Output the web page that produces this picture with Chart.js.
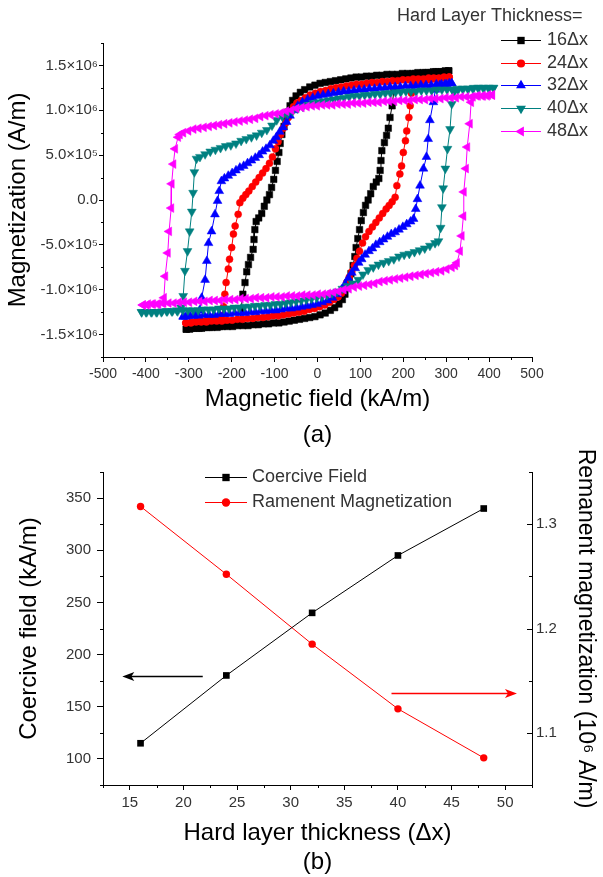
<!DOCTYPE html>
<html>
<head>
<meta charset="utf-8">
<title>Hysteresis loops and hard layer thickness</title>
<script src="https://cdn.jsdelivr.net/npm/chart.js@4.4.1/dist/chart.umd.min.js"></script>
<style>
  html, body { margin: 0; padding: 0; background: #fff; }
  #page { position: relative; width: 603px; height: 877px; }
  .panel { position: absolute; left: 0; width: 603px; }
  #panelA { top: 0; height: 455px; }
  #panelB { top: 440px; height: 437px; }
</style>
</head>
<body>
<div id="page">
  <div class="panel" id="panelA"><canvas id="loopChart"></canvas></div>
  <div class="panel" id="panelB"><canvas id="trendChart"></canvas></div>
</div>
<script>
// ---- (a) hysteresis loops: H in kA/m, M in 10^6 A/m ----
const loopLabels = ['16Δx', '24Δx', '32Δx', '40Δx', '48Δx'];

// each loop: field sweeping down from +Hmax (desc), then back up from -Hmax (asc)
const desc16 = [[306,1.44],[294,1.43],[282,1.43],[270,1.43],[258,1.42],[246,1.42],[234,1.42],[222,1.41],[210,1.41],[198,1.41],[186,1.40],[174,1.40],[162,1.40],[150,1.39],[138,1.39],[126,1.38],[114,1.38],[102,1.37],[90,1.37],[78,1.36],[66,1.35],[54,1.34],[42,1.33],[30,1.32],[18,1.31],[6,1.30],[-6,1.28],[-18,1.26],[-30,1.23],[-40,1.20],[-50,1.16],[-58,1.11],[-64,1.05],[-69,0.98],[-74,0.90],[-78,0.82],[-83,0.73],[-87,0.63],[-90,0.53],[-94,0.43],[-98,0.33],[-102,0.23],[-107,0.14],[-112,0.06],[-118,0.00],[-124,-0.07],[-130,-0.15],[-137,-0.20],[-143,-0.24],[-146,-0.33],[-148,-0.44],[-150,-0.55],[-156,-0.64],[-161,-0.72],[-165,-0.80],[-169,-0.92],[-174,-1.05],[-178,-1.22],[-182,-1.35],[-192,-1.38],[-204,-1.39],[-216,-1.40],[-228,-1.41],[-240,-1.41],[-252,-1.42],[-264,-1.42],[-276,-1.43],[-288,-1.43],[-298,-1.44],[-306,-1.44]];
const asc16 = [[-306,-1.44],[-294,-1.43],[-282,-1.43],[-270,-1.43],[-258,-1.42],[-246,-1.42],[-234,-1.42],[-222,-1.41],[-210,-1.41],[-198,-1.41],[-186,-1.40],[-174,-1.40],[-162,-1.40],[-150,-1.39],[-138,-1.39],[-126,-1.38],[-114,-1.38],[-102,-1.37],[-90,-1.37],[-78,-1.36],[-66,-1.35],[-54,-1.34],[-42,-1.33],[-30,-1.32],[-18,-1.31],[-6,-1.30],[6,-1.28],[18,-1.26],[30,-1.23],[40,-1.20],[50,-1.16],[58,-1.11],[64,-1.05],[69,-0.98],[74,-0.90],[78,-0.82],[83,-0.73],[87,-0.63],[90,-0.53],[94,-0.43],[98,-0.33],[102,-0.23],[107,-0.14],[112,-0.06],[118,0.00],[124,0.07],[130,0.15],[137,0.20],[143,0.24],[146,0.33],[148,0.44],[150,0.55],[156,0.64],[161,0.72],[165,0.80],[169,0.92],[174,1.05],[178,1.22],[182,1.35],[192,1.38],[204,1.39],[216,1.40],[228,1.41],[240,1.41],[252,1.42],[264,1.42],[276,1.43],[288,1.43],[298,1.44],[306,1.44]];

const desc24 = [[307,1.37],[295,1.37],[283,1.36],[271,1.36],[259,1.36],[247,1.35],[235,1.35],[223,1.35],[211,1.34],[199,1.34],[187,1.33],[175,1.33],[163,1.32],[151,1.32],[139,1.31],[127,1.31],[115,1.30],[103,1.29],[91,1.29],[79,1.28],[67,1.27],[55,1.26],[43,1.25],[31,1.24],[19,1.22],[7,1.21],[-5,1.19],[-17,1.17],[-28,1.14],[-38,1.11],[-48,1.08],[-56,1.04],[-62,0.98],[-68,0.92],[-74,0.86],[-80,0.80],[-86,0.73],[-92,0.65],[-98,0.57],[-105,0.48],[-112,0.41],[-120,0.35],[-128,0.30],[-136,0.25],[-144,0.20],[-152,0.15],[-160,0.10],[-167,0.06],[-174,0.02],[-181,-0.03],[-185,-0.16],[-192,-0.29],[-196,-0.38],[-200,-0.53],[-205,-0.66],[-208,-0.77],[-213,-0.92],[-216,-1.05],[-219,-1.19],[-223,-1.29],[-234,-1.32],[-246,-1.33],[-258,-1.34],[-270,-1.35],[-282,-1.35],[-294,-1.36],[-307,-1.37]];
const asc24 = [[-307,-1.37],[-295,-1.37],[-283,-1.36],[-271,-1.36],[-259,-1.36],[-247,-1.35],[-235,-1.35],[-223,-1.35],[-211,-1.34],[-199,-1.34],[-187,-1.33],[-175,-1.33],[-163,-1.32],[-151,-1.32],[-139,-1.31],[-127,-1.31],[-115,-1.30],[-103,-1.29],[-91,-1.29],[-79,-1.28],[-67,-1.27],[-55,-1.26],[-43,-1.25],[-31,-1.24],[-19,-1.22],[-7,-1.21],[5,-1.19],[17,-1.17],[28,-1.14],[38,-1.11],[48,-1.08],[56,-1.04],[62,-0.98],[68,-0.92],[74,-0.86],[80,-0.80],[86,-0.73],[92,-0.65],[98,-0.57],[105,-0.48],[112,-0.41],[120,-0.35],[128,-0.30],[136,-0.25],[144,-0.20],[152,-0.15],[160,-0.10],[167,-0.06],[174,-0.02],[181,0.03],[185,0.16],[192,0.29],[196,0.38],[200,0.53],[205,0.66],[208,0.77],[213,0.92],[216,1.05],[219,1.19],[223,1.29],[234,1.32],[246,1.33],[258,1.34],[270,1.35],[282,1.35],[294,1.36],[307,1.37]];

const desc32 = [[313,1.30],[301,1.29],[289,1.29],[277,1.29],[265,1.28],[253,1.28],[241,1.28],[229,1.27],[217,1.27],[205,1.27],[193,1.26],[181,1.26],[169,1.26],[157,1.25],[145,1.25],[133,1.24],[121,1.24],[109,1.23],[97,1.23],[85,1.22],[73,1.21],[61,1.21],[49,1.20],[37,1.19],[25,1.18],[13,1.17],[1,1.16],[-11,1.14],[-23,1.12],[-35,1.09],[-46,1.05],[-56,1.00],[-64,0.94],[-72,0.87],[-80,0.81],[-88,0.76],[-96,0.70],[-103,0.66],[-111,0.61],[-120,0.57],[-128,0.54],[-136,0.50],[-145,0.47],[-154,0.44],[-163,0.41],[-172,0.38],[-181,0.36],[-190,0.33],[-199,0.30],[-208,0.27],[-217,0.24],[-224,0.21],[-229,0.10],[-233,-0.01],[-239,-0.16],[-247,-0.35],[-254,-0.48],[-258,-0.68],[-262,-0.89],[-270,-1.09],[-275,-1.23],[-285,-1.28],[-297,-1.29],[-307,-1.30],[-313,-1.30]];
const asc32 = [[-313,-1.30],[-301,-1.29],[-289,-1.29],[-277,-1.29],[-265,-1.28],[-253,-1.28],[-241,-1.28],[-229,-1.27],[-217,-1.27],[-205,-1.27],[-193,-1.26],[-181,-1.26],[-169,-1.26],[-157,-1.25],[-145,-1.25],[-133,-1.24],[-121,-1.24],[-109,-1.23],[-97,-1.23],[-85,-1.22],[-73,-1.21],[-61,-1.21],[-49,-1.20],[-37,-1.19],[-25,-1.18],[-13,-1.17],[-1,-1.16],[11,-1.14],[23,-1.12],[35,-1.09],[46,-1.05],[56,-1.00],[64,-0.94],[72,-0.87],[80,-0.81],[88,-0.76],[96,-0.70],[103,-0.66],[111,-0.61],[120,-0.57],[128,-0.54],[136,-0.50],[145,-0.47],[154,-0.44],[163,-0.41],[172,-0.38],[181,-0.36],[190,-0.33],[199,-0.30],[208,-0.27],[217,-0.24],[224,-0.21],[229,-0.10],[233,0.01],[239,0.16],[247,0.35],[254,0.48],[258,0.68],[262,0.89],[270,1.09],[275,1.23],[285,1.28],[297,1.29],[307,1.30],[313,1.30]];

const desc40 = [[410,1.25],[398,1.25],[386,1.25],[374,1.25],[362,1.24],[350,1.24],[338,1.24],[326,1.24],[314,1.23],[302,1.23],[290,1.23],[278,1.23],[266,1.22],[254,1.22],[242,1.22],[230,1.21],[218,1.21],[206,1.21],[194,1.20],[182,1.20],[170,1.19],[158,1.19],[146,1.18],[134,1.18],[122,1.17],[110,1.17],[98,1.16],[86,1.16],[74,1.15],[62,1.14],[50,1.13],[38,1.12],[26,1.11],[14,1.10],[2,1.09],[-10,1.08],[-22,1.06],[-34,1.04],[-46,1.02],[-58,0.99],[-70,0.96],[-82,0.93],[-95,0.89],[-106,0.83],[-118,0.78],[-130,0.75],[-142,0.72],[-154,0.70],[-166,0.68],[-178,0.66],[-190,0.63],[-202,0.61],[-214,0.60],[-226,0.58],[-238,0.56],[-250,0.54],[-262,0.51],[-274,0.48],[-282,0.46],[-287,0.31],[-290,0.08],[-293,-0.13],[-298,-0.35],[-303,-0.57],[-309,-0.79],[-313,-1.07],[-318,-1.20],[-328,-1.23],[-340,-1.24],[-352,-1.24],[-364,-1.25],[-376,-1.25],[-388,-1.25],[-400,-1.25],[-410,-1.25]];
const asc40 = [[-410,-1.25],[-398,-1.25],[-386,-1.25],[-374,-1.25],[-362,-1.24],[-350,-1.24],[-338,-1.24],[-326,-1.24],[-314,-1.23],[-302,-1.23],[-290,-1.23],[-278,-1.23],[-266,-1.22],[-254,-1.22],[-242,-1.22],[-230,-1.21],[-218,-1.21],[-206,-1.21],[-194,-1.20],[-182,-1.20],[-170,-1.19],[-158,-1.19],[-146,-1.18],[-134,-1.18],[-122,-1.17],[-110,-1.17],[-98,-1.16],[-86,-1.16],[-74,-1.15],[-62,-1.14],[-50,-1.13],[-38,-1.12],[-26,-1.11],[-14,-1.10],[-2,-1.09],[10,-1.08],[22,-1.06],[34,-1.04],[46,-1.02],[58,-0.99],[70,-0.96],[82,-0.93],[95,-0.89],[106,-0.83],[118,-0.78],[130,-0.75],[142,-0.72],[154,-0.70],[166,-0.68],[178,-0.66],[190,-0.63],[202,-0.61],[214,-0.60],[226,-0.58],[238,-0.56],[250,-0.54],[262,-0.51],[274,-0.48],[282,-0.46],[287,-0.31],[290,-0.08],[293,0.13],[298,0.35],[303,0.57],[309,0.79],[313,1.07],[318,1.20],[328,1.23],[340,1.24],[352,1.24],[364,1.25],[376,1.25],[388,1.25],[400,1.25],[410,1.25]];

const desc48 = [[407,1.17],[395,1.16],[383,1.16],[371,1.16],[359,1.15],[347,1.15],[335,1.15],[323,1.14],[311,1.14],[299,1.14],[287,1.13],[275,1.13],[263,1.13],[251,1.12],[239,1.12],[227,1.12],[215,1.11],[203,1.11],[191,1.11],[179,1.10],[167,1.10],[155,1.10],[143,1.09],[131,1.09],[119,1.09],[107,1.08],[95,1.08],[83,1.08],[71,1.07],[59,1.07],[47,1.07],[35,1.06],[23,1.06],[11,1.06],[-1,1.05],[-13,1.05],[-25,1.04],[-37,1.03],[-49,1.02],[-61,1.00],[-73,0.99],[-85,0.97],[-97,0.96],[-109,0.95],[-121,0.94],[-133,0.93],[-145,0.91],[-157,0.90],[-169,0.89],[-181,0.88],[-193,0.87],[-205,0.86],[-217,0.85],[-229,0.84],[-241,0.83],[-253,0.82],[-265,0.81],[-277,0.80],[-289,0.79],[-301,0.77],[-313,0.75],[-321,0.73],[-325,0.70],[-332,0.57],[-336,0.40],[-340,0.18],[-341,-0.09],[-346,-0.35],[-349,-0.59],[-355,-0.85],[-358,-1.09],[-362,-1.15],[-374,-1.16],[-386,-1.16],[-398,-1.17],[-407,-1.17]];
const asc48 = [[-407,-1.17],[-395,-1.16],[-383,-1.16],[-371,-1.16],[-359,-1.15],[-347,-1.15],[-335,-1.15],[-323,-1.14],[-311,-1.14],[-299,-1.14],[-287,-1.13],[-275,-1.13],[-263,-1.13],[-251,-1.12],[-239,-1.12],[-227,-1.12],[-215,-1.11],[-203,-1.11],[-191,-1.11],[-179,-1.10],[-167,-1.10],[-155,-1.10],[-143,-1.09],[-131,-1.09],[-119,-1.09],[-107,-1.08],[-95,-1.08],[-83,-1.08],[-71,-1.07],[-59,-1.07],[-47,-1.07],[-35,-1.06],[-23,-1.06],[-11,-1.06],[1,-1.05],[13,-1.05],[25,-1.04],[37,-1.03],[49,-1.02],[61,-1.00],[73,-0.99],[85,-0.97],[97,-0.96],[109,-0.95],[121,-0.94],[133,-0.93],[145,-0.91],[157,-0.90],[169,-0.89],[181,-0.88],[193,-0.87],[205,-0.86],[217,-0.85],[229,-0.84],[241,-0.83],[253,-0.82],[265,-0.81],[277,-0.80],[289,-0.79],[301,-0.77],[313,-0.75],[321,-0.73],[325,-0.70],[332,-0.57],[336,-0.40],[340,-0.18],[341,0.09],[346,0.35],[349,0.59],[355,0.85],[358,1.09],[362,1.15],[374,1.16],[386,1.16],[398,1.17],[407,1.17]];

const fieldTicks = [-500, -400, -300, -200, -100, 0, 100, 200, 300, 400, 500];
const fieldMinor = [-450, -350, -250, -150, -50, 50, 150, 250, 350, 450];
const magTicks = [-1.5, -1.0, -0.5, 0, 0.5, 1.0, 1.5];
const magTickLabels = ['-1.5×10⁶', '-1.0×10⁶', '-5.0×10⁵', '0.0', '5.0×10⁵', '1.0×10⁶', '1.5×10⁶'];
const magMinor = [-1.75, -1.25, -0.75, -0.25, 0.25, 0.75, 1.25, 1.75];

// ---- (b) coercive field and remanence against hard layer thickness ----
const thickness = [16, 24, 32, 40, 48];
const coerciveField = [115, 180, 240, 295, 340];      // kA/m
const remanence = [1.317, 1.252, 1.185, 1.123, 1.076]; // 10^6 A/m
const thickTicks = [15, 20, 25, 30, 35, 40, 45, 50];
const thickMinor = [12.5, 17.5, 22.5, 27.5, 32.5, 37.5, 42.5, 47.5, 52.5];
const coerciveTicks = [100, 150, 200, 250, 300, 350];
const coerciveMinor = [75, 125, 175, 225, 275, 325, 375];
const remanenceTicks = [1.1, 1.2, 1.3];
const remanenceMinor = [1.05, 1.15, 1.25, 1.35];

Chart.defaults.font.family = '"Liberation Sans", Arial, sans-serif';
Chart.defaults.color = '#333';

const FONT = '"Liberation Sans", Arial, sans-serif';
const toPoints = rows => rows.map(([x, y]) => ({x, y}));
const fixTicks = values => scale => { scale.ticks = values.map(v => ({value: v})); };

// short tick marks between the labelled ones; len > 0 points outward
function axisMarks(sets) {
  return {
    id: 'axisMarks',
    afterDraw(chart) {
      const ctx = chart.ctx;
      ctx.save();
      ctx.strokeStyle = '#000';
      ctx.lineWidth = 1;
      sets.forEach(set => {
        const s = chart.scales[set.axis];
        set.values.forEach(v => {
          const p = Math.round(s.getPixelForValue(v)) + 0.5;
          ctx.beginPath();
          if (s.position === 'bottom') {
            ctx.moveTo(p, s.top); ctx.lineTo(p, s.top + set.len);
          } else if (s.position === 'left') {
            ctx.moveTo(s.right, p); ctx.lineTo(s.right - set.len, p);
          } else {
            ctx.moveTo(s.left, p); ctx.lineTo(s.left + set.len, p);
          }
          ctx.stroke();
        });
      });
      ctx.restore();
    }
  };
}

// legend in the Origin style: short line with the marker sitting on it
function lineLegend(cfg) {
  return {
    id: 'lineLegend',
    afterDraw(chart) {
      const ctx = chart.ctx;
      ctx.save();
      ctx.font = cfg.size + 'px ' + FONT;
      ctx.textBaseline = 'middle';
      ctx.fillStyle = '#333';
      if (cfg.title) ctx.fillText(cfg.title, cfg.titleX, cfg.titleY);
      chart.data.datasets.forEach((ds, i) => {
        const y = cfg.top + i * cfg.step;
        ctx.strokeStyle = ds.borderColor;
        ctx.lineWidth = 1;
        ctx.beginPath();
        ctx.moveTo(cfg.x1, Math.round(y) + 0.5);
        ctx.lineTo(cfg.x2, Math.round(y) + 0.5);
        ctx.stroke();
        ctx.fillStyle = ds.pointBackgroundColor;
        Chart.helpers.drawPoint(ctx, {
          pointStyle: ds.pointStyle,
          radius: ds.pointRadius + cfg.grow,
          rotation: ds.pointRotation || 0,
          borderWidth: 0
        }, (cfg.x1 + cfg.x2) / 2, Math.round(y) + 0.5);
        ctx.fillStyle = '#333';
        ctx.fillText(ds.label, cfg.textX, y);
      });
      ctx.restore();
    }
  };
}

// ---------- chart (a) ----------
const loopStyles = [
  {color: '#000000', shape: 'rect', r: 4.6, rot: 0},
  {color: '#ff0000', shape: 'circle', r: 3.5, rot: 0},
  {color: '#0000ff', shape: 'triangle', r: 5.1, rot: 0},
  {color: '#008080', shape: 'triangle', r: 5.1, rot: 180},
  {color: '#ff00ff', shape: 'triangle', r: 5.1, rot: 270}
];
const loops = [[desc16, asc16], [desc24, asc24], [desc32, asc32], [desc40, asc40], [desc48, asc48]];

new Chart(document.getElementById('loopChart'), {
  type: 'scatter',
  data: {
    datasets: loops.map(([down, up], i) => {
      const s = loopStyles[i];
      return {
        label: loopLabels[i],
        data: toPoints(down.concat(up)),
        showLine: true,
        borderColor: s.color,
        borderWidth: 1,
        backgroundColor: s.color,
        pointBackgroundColor: s.color,
        pointBorderColor: s.color,
        pointBorderWidth: 0.5,
        pointStyle: s.shape,
        pointRadius: s.r,
        pointRotation: s.rot,
        order: loops.length - i
      };
    })
  },
  options: {
    responsive: true,
    maintainAspectRatio: false,
    animation: false,
    layout: {padding: {top: 43, right: 71, left: 0, bottom: 0}},
    plugins: {legend: {display: false}, tooltip: {enabled: false}},
    scales: {
      x: {
        type: 'linear', min: -500, max: 500,
        afterBuildTicks: fixTicks(fieldTicks),
        afterFit: s => { s.height = 98; },
        border: {color: '#000', width: 1},
        grid: {drawOnChartArea: false, color: '#000', tickLength: 5},
        ticks: {font: {size: 14}, color: '#333', padding: 4, maxRotation: 0},
        title: {display: true, text: ['Magnetic field (kA/m)', '(a)'], color: '#000',
                font: {size: 24, lineHeight: 1.5}, padding: {top: 0, bottom: 2}}
      },
      y: {
        type: 'linear', min: -1.75, max: 1.75,
        afterBuildTicks: fixTicks(magTicks),
        afterFit: s => { s.width = 103; },
        border: {color: '#000', width: 1},
        grid: {drawOnChartArea: false, color: '#000', tickLength: 4},
        ticks: {font: {size: 15}, color: '#333', padding: 1, callback: (v, i) => magTickLabels[i]},
        title: {display: true, text: 'Magnetization (A/m)', color: '#000',
                font: {size: 24}, padding: {top: 4, bottom: 0}}
      }
    }
  },
  plugins: [
    axisMarks([{axis: 'x', values: fieldMinor, len: 3}, {axis: 'y', values: magMinor, len: 2}]),
    lineLegend({size: 18, title: 'Hard Layer Thickness=', titleX: 397, titleY: 16,
                top: 40, step: 22.7, x1: 501, x2: 541, textX: 547, grow: 0.6})
  ]
});

// ---------- chart (b) ----------
const guideArrows = {
  id: 'guideArrows',
  afterDraw(chart) {
    const ctx = chart.ctx;
    const xs = chart.scales.x;
    // black points to the left axis, red to the right axis
    [{from: 21.8, to: 14.3, y: 179.5, axis: 'y', color: '#000'},
     {from: 39.4, to: 51.1, y: 1.1385, axis: 'y1', color: '#ff0000'}].forEach(a => {
      const x0 = xs.getPixelForValue(a.from);
      const x1 = xs.getPixelForValue(a.to);
      const y = Math.round(chart.scales[a.axis].getPixelForValue(a.y)) + 0.5;
      const dir = Math.sign(x1 - x0);
      ctx.save();
      ctx.strokeStyle = a.color;
      ctx.fillStyle = a.color;
      ctx.lineWidth = 1.5;
      ctx.beginPath();
      ctx.moveTo(x0, y);
      ctx.lineTo(x1 - dir * 8, y);
      ctx.stroke();
      ctx.beginPath();
      ctx.moveTo(x1, y);
      ctx.lineTo(x1 - dir * 12, y - 4.5);
      ctx.lineTo(x1 - dir * 9, y);
      ctx.lineTo(x1 - dir * 12, y + 4.5);
      ctx.closePath();
      ctx.fill();
      ctx.restore();
    });
  }
};

new Chart(document.getElementById('trendChart'), {
  type: 'scatter',
  data: {
    datasets: [
      {
        label: 'Coercive Field',
        data: thickness.map((x, i) => ({x, y: coerciveField[i]})),
        yAxisID: 'y',
        showLine: true,
        borderColor: '#000',
        borderWidth: 1,
        pointBackgroundColor: '#000',
        pointBorderColor: '#000',
        pointBorderWidth: 0,
        pointStyle: 'rect',
        pointRadius: 4.7
      },
      {
        label: 'Ramenent Magnetization',
        data: thickness.map((x, i) => ({x, y: remanence[i]})),
        yAxisID: 'y1',
        showLine: true,
        borderColor: '#ff0000',
        borderWidth: 1,
        pointBackgroundColor: '#ff0000',
        pointBorderColor: '#ff0000',
        pointBorderWidth: 0,
        pointStyle: 'circle',
        pointRadius: 3.7
      }
    ]
  },
  options: {
    responsive: true,
    maintainAspectRatio: false,
    animation: false,
    layout: {padding: {top: 32, right: 0, left: 0, bottom: 0}},
    plugins: {legend: {display: false}, tooltip: {enabled: false}},
    scales: {
      x: {
        type: 'linear', min: 12.5, max: 52.5,
        afterBuildTicks: fixTicks(thickTicks),
        afterFit: s => { s.height = 92; },
        border: {color: '#000', width: 1},
        grid: {drawOnChartArea: false, color: '#000', tickLength: 5},
        ticks: {font: {size: 15}, color: '#333', padding: 4, maxRotation: 0},
        title: {display: true, text: ['Hard layer thickness (Δx)', '(b)'], color: '#000',
                font: {size: 24, lineHeight: 1.21}, padding: {top: 0, bottom: 0.5}}
      },
      y: {
        type: 'linear', position: 'left', min: 75, max: 375,
        afterBuildTicks: fixTicks(coerciveTicks),
        afterFit: s => { s.width = 103; },
        border: {color: '#000', width: 1},
        grid: {drawOnChartArea: false, color: '#000', tickLength: 6},
        ticks: {font: {size: 15}, color: '#333', padding: 6},
        title: {display: true, text: 'Coercive field (kA/m)', color: '#000',
                font: {size: 24}, padding: {top: 14.6, bottom: 0}}
      },
      y1: {
        type: 'linear', position: 'right', min: 1.05, max: 1.35,
        afterBuildTicks: fixTicks(remanenceTicks),
        afterFit: s => { s.width = 71; },
        border: {color: '#000', width: 1},
        grid: {drawOnChartArea: false, drawTicks: false},
        ticks: {font: {size: 15}, color: '#333', padding: 4, callback: v => v.toFixed(1)},
        title: {display: true, text: 'Remanent magnetization (10⁶ A/m)', color: '#000',
                font: {size: 23}, padding: {top: 4, bottom: 0}}
      }
    }
  },
  plugins: [
    axisMarks([
      {axis: 'x', values: thickMinor, len: 3},
      {axis: 'y', values: coerciveMinor, len: 3},
      {axis: 'y1', values: remanenceTicks, len: -5},
      {axis: 'y1', values: remanenceMinor, len: -3}
    ]),
    guideArrows,
    lineLegend({size: 18, top: 36.7, step: 25, x1: 205, x2: 247, textX: 252, grow: 0.5})
  ]
});
</script>
</body>
</html>
